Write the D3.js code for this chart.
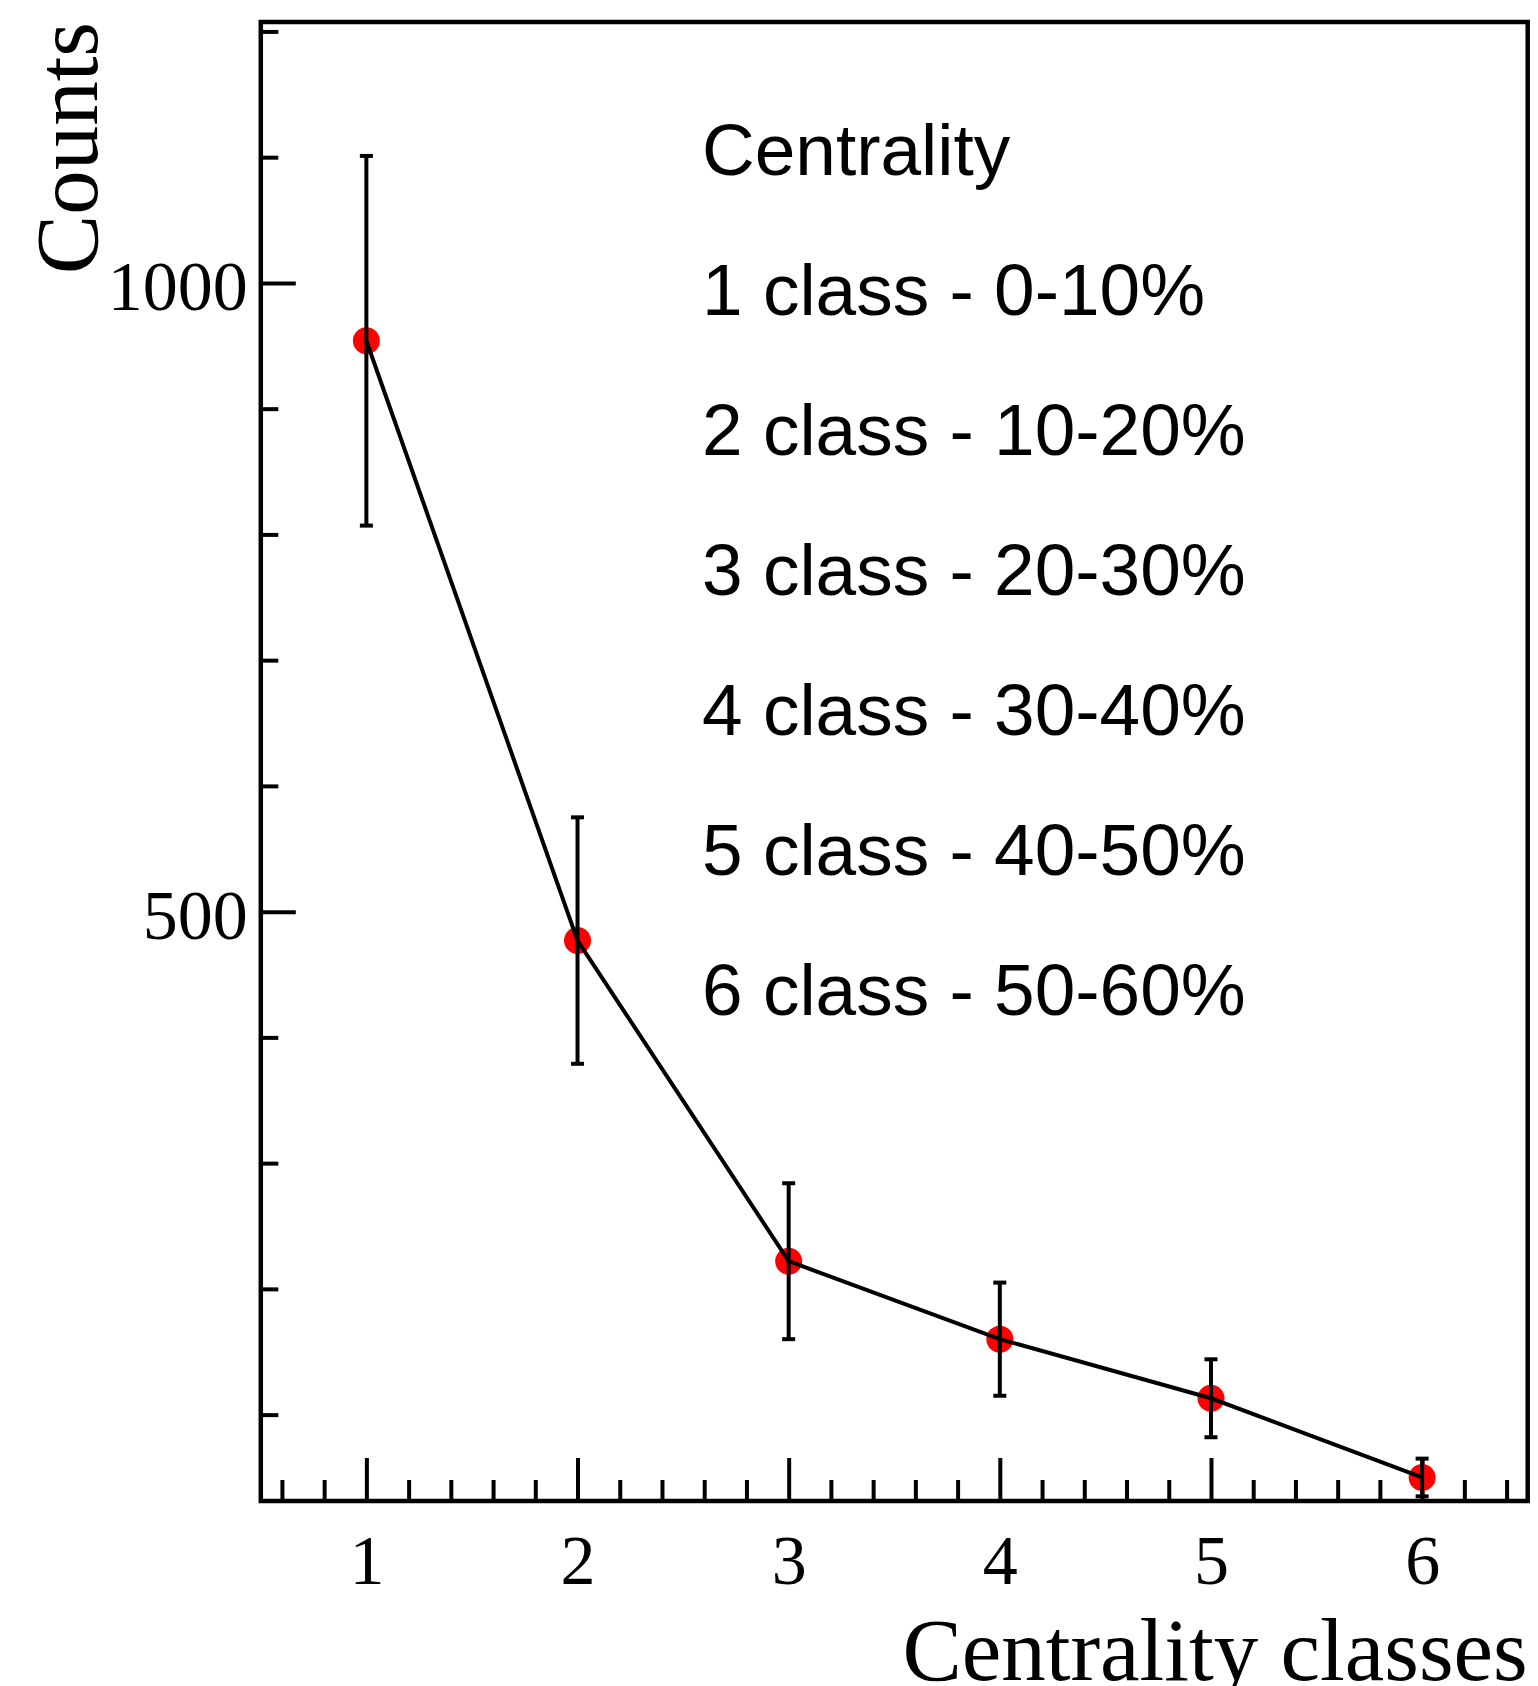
<!DOCTYPE html>
<html>
<head>
<meta charset="utf-8">
<script src="https://cdn.jsdelivr.net/npm/d3@7"></script>
<style>
  body { margin: 0; background: #fff; }
</style>
</head>
<body>
<div id="chart"></div>
<script>
// data
var categories = [1, 2, 3, 4, 5, 6];
var counts = [954, 477, 222, 160, 113, 50];
var countErrors = [147, 98, 62, 45, 31, 15];

var xMajorTicks = [1, 2, 3, 4, 5, 6];
var xMinorTicks = [0.6, 0.8, 1.2, 1.4, 1.6, 1.8, 2.2, 2.4, 2.6, 2.8, 3.2, 3.4, 3.6, 3.8,
                   4.2, 4.4, 4.6, 4.8, 5.2, 5.4, 5.6, 5.8, 6.2, 6.4];
var yMajorTicks = [500, 1000];
var yMinorTicks = [100, 200, 300, 400, 600, 700, 800, 900, 1100, 1200];

var legendTitle = "Centrality";
var legendLines = [
  "1 class - 0-10%",
  "2 class - 10-20%",
  "3 class - 20-30%",
  "4 class - 30-40%",
  "5 class - 40-50%",
  "6 class - 50-60%"
];
var xTitle = "Centrality classes";
var yTitle = "Counts";

var svgWidth = 1538, svgHeight = 1686;
var frame = { left: 260.8, right: 1527.7, top: 22, bottom: 1501 };
var serif = "'Liberation Serif', 'Times New Roman', serif";
var sans = "'Liberation Sans', Arial, Helvetica, sans-serif";

var svg = d3.select("#chart").append("svg")
  .attr("width", svgWidth)
  .attr("height", svgHeight);

var xScale = d3.scaleLinear()
  .domain([0.5, 6.5])
  .range([frame.left, frame.right]);

var yScale = d3.scaleLinear()
  .domain([31.3, 1207.5])
  .range([frame.bottom, frame.top]);

// minor ticks (inside the frame)
svg.append("g")
  .attr("class", "axis x-minor")
  .attr("transform", "translate(0," + frame.bottom + ")")
  .call(d3.axisBottom(xScale).tickValues(xMinorTicks).tickSize(-21).tickFormat(""));

svg.append("g")
  .attr("class", "axis y-minor")
  .attr("transform", "translate(" + frame.left + ",0)")
  .call(d3.axisLeft(yScale).tickValues(yMinorTicks).tickSize(-17.5).tickFormat(""));

// major ticks + labels
var xAxis = svg.append("g")
  .attr("class", "axis x-major")
  .attr("transform", "translate(0," + frame.bottom + ")")
  .call(d3.axisBottom(xScale).tickValues(xMajorTicks).tickSize(-43).tickPadding(33)
    .tickFormat(d3.format("d")));

var yAxis = svg.append("g")
  .attr("class", "axis y-major")
  .attr("transform", "translate(" + frame.left + ",0)")
  .call(d3.axisLeft(yScale).tickValues(yMajorTicks).tickSize(-35).tickPadding(13)
    .tickFormat(d3.format("d")));

svg.selectAll(".axis .domain").remove();
svg.selectAll(".axis line")
  .attr("stroke", "#000")
  .attr("stroke-width", 4);

xAxis.selectAll("text")
  .attr("font-family", serif)
  .attr("font-size", "70px")
  .attr("fill", "#000");

yAxis.selectAll("text")
  .attr("font-family", serif)
  .attr("font-size", "70px")
  .attr("dy", "0.38em")
  .attr("fill", "#000");

// frame
svg.append("rect")
  .attr("x", frame.left)
  .attr("y", frame.top)
  .attr("width", frame.right - frame.left)
  .attr("height", frame.bottom - frame.top)
  .attr("fill", "none")
  .attr("stroke", "#000")
  .attr("stroke-width", 4.5);

var points = categories.map(function (c, i) {
  return { x: c, y: counts[i], err: countErrors[i] };
});

// markers
svg.append("g").selectAll("circle")
  .data(points)
  .enter().append("circle")
  .attr("cx", function (d) { return xScale(d.x); })
  .attr("cy", function (d) { return yScale(d.y); })
  .attr("r", 13.5)
  .attr("fill", "#ff0000");

// connecting line
var line = d3.line()
  .x(function (d) { return xScale(d.x); })
  .y(function (d) { return yScale(d.y); });

svg.append("path")
  .attr("d", line(points))
  .attr("fill", "none")
  .attr("stroke", "#000")
  .attr("stroke-width", 4);

// error bars
var errG = svg.append("g").attr("stroke", "#000").attr("stroke-width", 4);
var eb = errG.selectAll("g")
  .data(points)
  .enter().append("g");

eb.append("line")
  .attr("x1", function (d) { return xScale(d.x); })
  .attr("x2", function (d) { return xScale(d.x); })
  .attr("y1", function (d) { return yScale(d.y + d.err); })
  .attr("y2", function (d) { return yScale(d.y - d.err); });

eb.append("line")
  .attr("x1", function (d) { return xScale(d.x) - 6.5; })
  .attr("x2", function (d) { return xScale(d.x) + 6.5; })
  .attr("y1", function (d) { return yScale(d.y + d.err); })
  .attr("y2", function (d) { return yScale(d.y + d.err); });

eb.append("line")
  .attr("x1", function (d) { return xScale(d.x) - 6.5; })
  .attr("x2", function (d) { return xScale(d.x) + 6.5; })
  .attr("y1", function (d) { return yScale(d.y - d.err); })
  .attr("y2", function (d) { return yScale(d.y - d.err); });

// legend text
var legend = svg.append("g")
  .attr("font-family", sans)
  .attr("font-size", "73px")
  .attr("fill", "#000");

legend.selectAll("text")
  .data([legendTitle].concat(legendLines))
  .enter().append("text")
  .attr("x", 702)
  .attr("y", function (d, i) { return 175 + i * 140; })
  .text(function (d) { return d; });

// axis titles
svg.append("text")
  .attr("x", frame.right)
  .attr("y", 1680)
  .attr("text-anchor", "end")
  .attr("font-family", serif)
  .attr("font-size", "89px")
  .attr("fill", "#000")
  .text(xTitle);

svg.append("text")
  .attr("transform", "translate(97," + frame.top + ") rotate(-90)")
  .attr("text-anchor", "end")
  .attr("font-family", serif)
  .attr("font-size", "89px")
  .attr("fill", "#000")
  .text(yTitle);
</script>
</body>
</html>
